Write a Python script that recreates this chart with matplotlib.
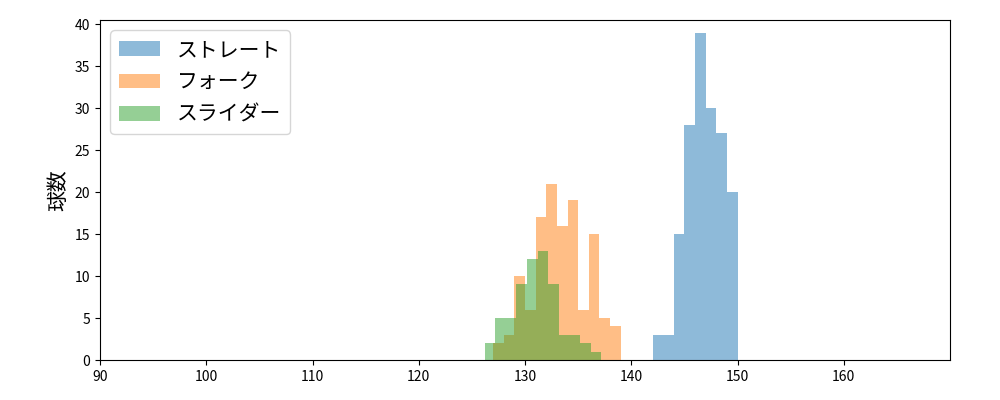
import numpy as np
import matplotlib
matplotlib.use("Agg")
import matplotlib.pyplot as plt

plt.rcParams['font.family'] = ['Noto Sans CJK JP', 'DejaVu Sans']

# bin start (km/h) and pitch counts per 1 km/h bin
straight_bins = [142, 143, 144, 145, 146, 147, 148, 149]
straight_counts = [3, 3, 15, 28, 39, 30, 27, 20]
fork_bins = [127, 128, 129, 130, 131, 132, 133, 134, 135, 136, 137, 138]
fork_counts = [2, 3, 10, 6, 17, 21, 16, 19, 6, 15, 5, 4]
slider_bins = [126.2, 127.2, 128.2, 129.2, 130.2, 131.2, 132.2, 133.2, 134.2, 135.2, 136.2]
slider_counts = [2, 5, 5, 9, 12, 13, 9, 3, 3, 2, 1]

fig, ax = plt.subplots(figsize=(10, 4), dpi=100)
for b, c, name in [(straight_bins, straight_counts, "ストレート"),
                   (fork_bins, fork_counts, "フォーク"),
                   (slider_bins, slider_counts, "スライダー")]:
    edges = list(b) + [b[-1] + 1]
    ax.hist(b, bins=edges, weights=c, alpha=0.5, label=name)

ax.set_xlim(90, 170)
ax.set_ylim(0, 40.5)
ax.set_xticks(range(90, 170, 10))
ax.set_ylabel("球数", fontsize=15)
ax.legend(fontsize=15, loc="upper left")
fig.subplots_adjust(left=0.1, right=0.95, top=0.95, bottom=0.1)
fig.savefig("out.png")
